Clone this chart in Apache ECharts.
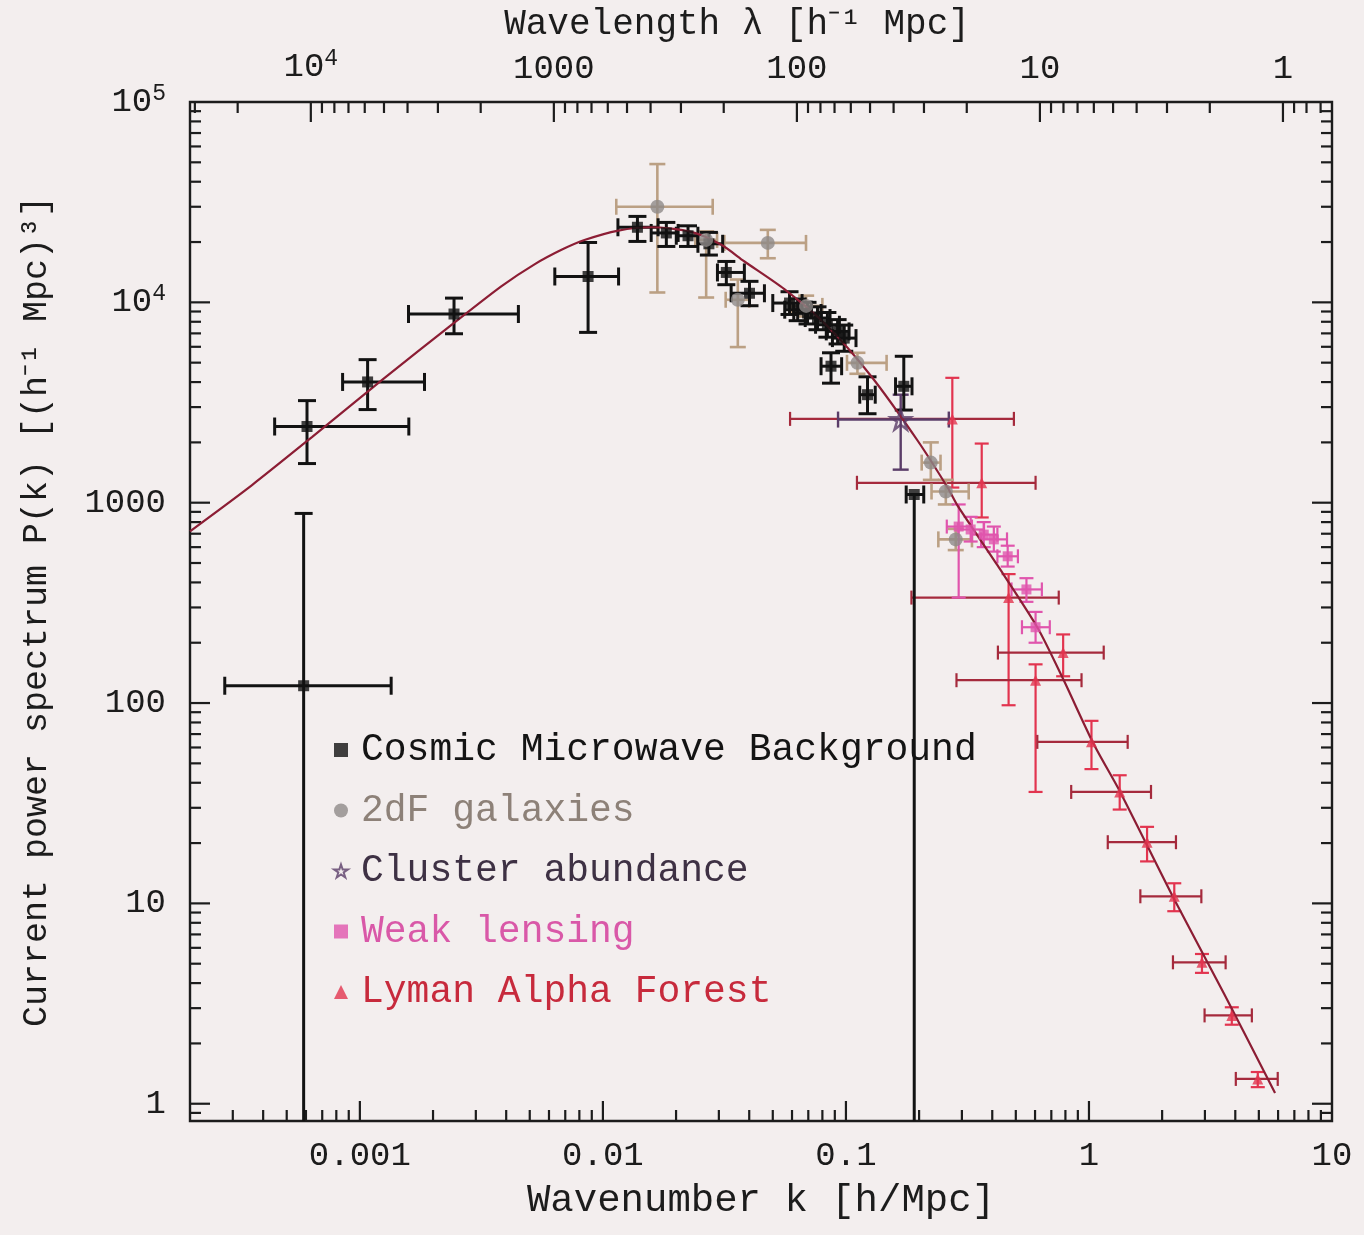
<!DOCTYPE html>
<html>
<head>
<meta charset="utf-8">
<script src="https://cdn.jsdelivr.net/npm/echarts@6/dist/echarts.min.js"></script>
<style>
  html, body { margin: 0; padding: 0; background: #f3eeee; }
  #chart { width: 1364px; height: 1235px; }
</style>
</head>
<body>
<div id="chart"></div>
<script>
// Model power spectrum P(k)
const curveK = [2.00e-4, 3.60e-4, 6.35e-4, 1.231e-3, 2.455e-3, 3.83e-3, 5.23e-3, 6.755e-3, 8.395e-3, 0.01158,
  0.01581, 0.02308, 0.0307, 0.0381, 0.0558, 0.0836, 0.1268, 0.1977, 0.2625, 0.2884,
  0.4207, 0.6144, 0.778, 1.043, 1.347, 2.223, 3.601, 5.83];
const curveP = [720, 1225, 2125, 4086, 7943, 12060, 15480, 18290, 20470, 22820,
  23710, 22480, 19370, 16040, 11640, 7640, 4290, 2032, 1186, 964,
  486, 237.7, 134, 62.8, 35.8, 10.7, 3.53, 1.13];

// Measurements: [k, P, kLow, kHigh, PLow, PHigh]
const cmbPoints = [
  [5.87e-4, 122, 2.78e-4, 1.345e-3, 0.5, 884],
  [6.06e-4, 2400, 4.46e-4, 1.59e-3, 1568, 3232],
  [1.076e-3, 4006, 8.49e-4, 1.845e-3, 2916, 5176],
  [2.44e-3, 8744, 1.585e-3, 4.49e-3, 6970, 10500],
  [8.69e-3, 13460, 6.34e-3, 1.16e-2, 7080, 19900],
  [0.01387, 23700, 0.01153, 0.01687, 20140, 26850],
  [0.01824, 22200, 0.0158, 0.0204, 19010, 25060],
  [0.0224, 21500, 0.02004, 0.0246, 19010, 24100],
  [0.0273, 19600, 0.0246, 0.0311, 17220, 22340],
  [0.0322, 14100, 0.0296, 0.0382, 12250, 16000],
  [0.0401, 11100, 0.0337, 0.0462, 9620, 12730],
  [0.0586, 9920, 0.0500, 0.0660, 8700, 11300],
  [0.0633, 9190, 0.0560, 0.0720, 8100, 10400],
  [0.0695, 8850, 0.0610, 0.0790, 7800, 10000],
  [0.0764, 8350, 0.0680, 0.0860, 7300, 9500],
  [0.0839, 7730, 0.0750, 0.0940, 6700, 8900],
  [0.0924, 7160, 0.0830, 0.1030, 6200, 8200],
  [0.0984, 6630, 0.0880, 0.1100, 5700, 7700],
  [0.0868, 4800, 0.0790, 0.0960, 3950, 5600],
  [0.1227, 3460, 0.1140, 0.1320, 2780, 4250],
  [0.173, 3810, 0.160, 0.187, 2900, 5380],
  [0.191, 1099, 0.177, 0.209, 0.5, 1099]
];
const galaxyPoints = [
  [0.01675, 30000, 0.01135, 0.0283, 11200, 49000],
  [0.0266, 20500, 0.0240, 0.0295, 10570, 22600],
  [0.0359, 10300, 0.0320, 0.0400, 5980, 13000],
  [0.0477, 19800, 0.0316, 0.0685, 16600, 23000],
  [0.0686, 9600, 0.0600, 0.0800, 8500, 10800],
  [0.1115, 4990, 0.101, 0.147, 4400, 5600],
  [0.2235, 1585, 0.205, 0.245, 1300, 2000],
  [0.2576, 1137, 0.225, 0.32, 980, 1300],
  [0.283, 656, 0.24, 0.33, 580, 740]
];
const clusterPoints = [
  [0.168, 2600, 0.0928, 0.265, 1462, 3460]
];
const lensingPoints = [
  [0.291, 760, 0.26, 0.33, 336, 980],
  [0.326, 735, 0.29, 0.37, 640, 850],
  [0.369, 693, 0.33, 0.42, 600, 800],
  [0.406, 656, 0.36, 0.46, 570, 760],
  [0.463, 540, 0.42, 0.51, 480, 610],
  [0.553, 369, 0.48, 0.64, 320, 420],
  [0.603, 239, 0.53, 0.69, 200, 285]
];
const lymanPoints = [
  [0.274, 2620, 0.0589, 0.491, 1190, 4200],
  [0.362, 1257, 0.111, 0.603, 844, 1973],
  [0.467, 336, 0.186, 0.751, 97.5, 440],
  [0.603, 130, 0.285, 0.932, 36, 156],
  [0.783, 178.6, 0.422, 1.15, 136, 220],
  [1.024, 64, 0.613, 1.443, 46.8, 81.5],
  [1.338, 36.0, 0.845, 1.80, 29.4, 43.6],
  [1.734, 20.2, 1.195, 2.28, 16.2, 24.1],
  [2.244, 10.85, 1.627, 2.90, 9.14, 12.6],
  [2.917, 5.08, 2.216, 3.65, 4.50, 5.59],
  [3.87, 2.76, 2.99, 4.68, 2.48, 3.03],
  [4.95, 1.33, 4.02, 5.98, 1.21, 1.44]
];

// Axis ranges and decade labels (keyed by power of ten)
const kMin = 2e-4, kMax = 10;
const pMin = 0.82, pMax = 1e5;
const TWO_PI = 2 * Math.PI;
const kTickLabels = { '-3': '0.001', '-2': '0.01', '-1': '0.1', '0': '1', '1': '10' };
const lambdaTickLabels = { '4': '{b|10}{s|4}', '3': '1000', '2': '100', '1': '10', '0': '1' };
const pTickLabels = { '5': '{b|10}{s|5}', '4': '{b|10}{s|4}', '3': '1000', '2': '100', '1': '10', '0': '1' };

const FONT = 'Liberation Mono';
const INK = '#1c1c1c';

function decadeLabel(table) {
  return function (v) {
    const e = Math.log10(v);
    const r = Math.round(e);
    if (Math.abs(e - r) > 1e-6) return '';
    return table[String(r)] || '';
  };
}
const supRich = {
  b: { fontFamily: FONT, fontSize: 34, color: INK },
  s: { fontFamily: FONT, fontSize: 23, color: INK, padding: [0, 0, 16, 0] }
};

// Tick marks: rows of [value, value, side, major]; side 0 = bottom k, 1 = top lambda, 2 = left P, 3 = right P
const tickRows = [];
function addTicks(lo, hi, eFrom, eTo, side) {
  for (let e = eFrom; e <= eTo; e++) {
    for (let m = 1; m <= 9; m++) {
      const v = m * Math.pow(10, e);
      if (v > lo * 1.0001 && v < hi / 1.0001) tickRows.push([v, v, side, m === 1 ? 1 : 0]);
    }
  }
}
addTicks(kMin, kMax, -4, 1, 0);
addTicks(TWO_PI / kMax, TWO_PI / kMin, -1, 4, 1);
addTicks(pMin, pMax, -1, 5, 2);
addTicks(pMin, pMax, -1, 5, 3);

function renderTick(params, api) {
  const v = api.value(0), side = api.value(2), major = api.value(3);
  const cs = params.coordSys;
  const len = major ? 20 : 11;
  let shape;
  if (side === 0 || side === 1) {
    const k = side === 0 ? v : TWO_PI / v;
    const x = api.coord([k, 1])[0];
    if (x < cs.x + 1 || x > cs.x + cs.width - 1) return;
    shape = side === 0
      ? { x1: x, y1: cs.y + cs.height, x2: x, y2: cs.y + cs.height - len }
      : { x1: x, y1: cs.y, x2: x, y2: cs.y + len };
  } else {
    const y = api.coord([1, v])[1];
    if (y < cs.y + 1 || y > cs.y + cs.height - 1) return;
    shape = side === 2
      ? { x1: cs.x, y1: y, x2: cs.x + len, y2: y }
      : { x1: cs.x + cs.width, y1: y, x2: cs.x + cs.width - len, y2: y };
  }
  return { type: 'line', shape: shape, style: { stroke: INK, lineWidth: 2.2 } };
}

// Error bars with end caps
function errorBars(vColor, hColor, width, cap) {
  return function (params, api) {
    const k = api.value(0), P = api.value(1);
    const kl = api.value(2), kh = api.value(3), pl = api.value(4), ph = api.value(5);
    const c = api.coord([k, P]);
    const xl = api.coord([kl, P])[0], xh = api.coord([kh, P])[0];
    const yl = api.coord([k, pl])[1], yh = api.coord([k, ph])[1];
    const hs = { stroke: hColor, lineWidth: width };
    const vs = { stroke: vColor, lineWidth: width };
    const kids = [];
    if (xh - xl > 1) {
      kids.push({ type: 'line', shape: { x1: xl, y1: c[1], x2: xh, y2: c[1] }, style: hs });
      kids.push({ type: 'line', shape: { x1: xl, y1: c[1] - cap, x2: xl, y2: c[1] + cap }, style: hs });
      kids.push({ type: 'line', shape: { x1: xh, y1: c[1] - cap, x2: xh, y2: c[1] + cap }, style: hs });
    }
    if (yl - yh > 1) {
      kids.push({ type: 'line', shape: { x1: c[0], y1: yh, x2: c[0], y2: yl }, style: vs });
      if (ph > P) kids.push({ type: 'line', shape: { x1: c[0] - cap, y1: yh, x2: c[0] + cap, y2: yh }, style: vs });
      if (pl < P) kids.push({ type: 'line', shape: { x1: c[0] - cap, y1: yl, x2: c[0] + cap, y2: yl }, style: vs });
    }
    return { type: 'group', children: kids };
  };
}

const DIMS = ['k', 'P', 'kLo', 'kHi', 'PLo', 'PHi'];
function barSeries(rows, vColor, hColor, width, cap, z) {
  return {
    type: 'custom', data: rows, dimensions: DIMS, encode: { x: 'k', y: 'P' },
    renderItem: errorBars(vColor, hColor, width, cap), clip: true, silent: true, z: z
  };
}
function markSeries(name, rows, symbol, size, itemStyle, z) {
  return {
    type: 'scatter', name: name, data: rows.map(r => [r[0], r[1]]),
    symbol: symbol, symbolSize: size, itemStyle: itemStyle, clip: true, silent: true, z: z
  };
}

const STAR = 'path://M50,0 L61.8,35.5 L100,35.5 L69.1,57.5 L80.9,93.5 L50,71.5 L19.1,93.5 L30.9,57.5 L0,35.5 L38.2,35.5 Z';

const colors = {
  cmb: '#121212', galaxy: '#8e8a88', galaxyBar: '#bba084', cluster: '#5a3c68',
  lensing: '#e055ad', lymanV: '#e2344f', lymanH: '#a52a3c', curve: '#8c1d34'
};

const chart = echarts.init(document.getElementById('chart'), null, { renderer: 'canvas' });
chart.setOption({
  animation: false,
  backgroundColor: '#f3eeee',
  grid: {
    left: 190, right: 32, top: 102, bottom: 114,
    show: true, borderColor: INK, borderWidth: 2.4, backgroundColor: 'transparent',
    outerBoundsMode: 'none'
  },
  xAxis: [
    {
      type: 'log', min: kMin, max: kMax, position: 'bottom',
      name: 'Wavenumber k [h/Mpc]', nameLocation: 'middle', nameGap: 60,
      nameTextStyle: { fontFamily: FONT, fontSize: 39, color: INK },
      axisLine: { show: false }, axisTick: { show: false }, splitLine: { show: false },
      axisLabel: {
        formatter: decadeLabel(kTickLabels), margin: 18,
        fontFamily: FONT, fontSize: 34, color: INK, showMinLabel: false
      }
    },
    {
      type: 'log', min: TWO_PI / kMax, max: TWO_PI / kMin, position: 'top', inverse: true,
      name: 'Wavelength λ [h⁻¹ Mpc]', nameLocation: 'middle', nameGap: 52,
      nameTextStyle: { fontFamily: FONT, fontSize: 36, color: INK, padding: [0, 48, 0, 0] },
      axisLine: { show: false }, axisTick: { show: false }, splitLine: { show: false },
      axisLabel: {
        formatter: decadeLabel(lambdaTickLabels), margin: 16,
        fontFamily: FONT, fontSize: 34, color: INK, rich: supRich,
        showMinLabel: false, showMaxLabel: false
      }
    }
  ],
  yAxis: {
    type: 'log', min: pMin, max: pMax,
    name: 'Current power spectrum P(k) [(h⁻¹ Mpc)³]', nameLocation: 'middle', nameGap: 136,
    nameTextStyle: { fontFamily: FONT, fontSize: 35, color: INK },
    axisLine: { show: false }, axisTick: { show: false }, splitLine: { show: false },
    axisLabel: {
      formatter: decadeLabel(pTickLabels), margin: 24,
      fontFamily: FONT, fontSize: 34, color: INK, rich: supRich, showMinLabel: false
    }
  },
  legend: {
    orient: 'vertical', left: 328, top: 725, itemGap: 20.5,
    itemWidth: 14, itemHeight: 14, selectedMode: false,
    textStyle: { fontFamily: FONT, fontSize: 38, lineHeight: 40, color: INK, padding: [0, 0, 0, 8] },
    data: [
      { name: 'Cosmic Microwave Background', textStyle: { color: '#141414' } },
      { name: '2dF galaxies', textStyle: { color: '#8d8178' } },
      { name: 'Cluster abundance', textStyle: { color: '#3e3144' } },
      { name: 'Weak lensing', textStyle: { color: '#d958a8' } },
      { name: 'Lyman Alpha Forest', textStyle: { color: '#c72a3c' } }
    ]
  },
  series: [
    { type: 'custom', data: tickRows, encode: { x: 0, y: 1 }, renderItem: renderTick, clip: false, silent: true, z: 1 },
    barSeries(lymanPoints, colors.lymanV, colors.lymanH, 2.2, 7, 2),
    barSeries(galaxyPoints, colors.galaxyBar, colors.galaxyBar, 2.6, 8, 3),
    barSeries(lensingPoints, colors.lensing, colors.lensing, 2.2, 7, 4),
    barSeries(clusterPoints, colors.cluster, colors.cluster, 2.4, 8, 5),
    barSeries(cmbPoints, colors.cmb, colors.cmb, 3, 9, 6),
    {
      type: 'line', data: curveK.map((k, i) => [k, curveP[i]]), showSymbol: false, smooth: 0.25,
      lineStyle: { color: colors.curve, width: 2.2 }, clip: true, silent: true, z: 7
    },
    markSeries('Cosmic Microwave Background', cmbPoints, 'rect', 11, { color: colors.cmb }, 8),
    markSeries('2dF galaxies', galaxyPoints, 'circle', 14, { color: colors.galaxy }, 8),
    markSeries('Cluster abundance', clusterPoints, STAR, 20,
      { color: 'rgba(0,0,0,0)', borderColor: colors.cluster, borderWidth: 2.5 }, 8),
    markSeries('Weak lensing', lensingPoints, 'rect', 10, { color: colors.lensing }, 8),
    markSeries('Lyman Alpha Forest', lymanPoints, 'triangle', 11, { color: colors.lymanV }, 8)
  ]
});
</script>
</body>
</html>
